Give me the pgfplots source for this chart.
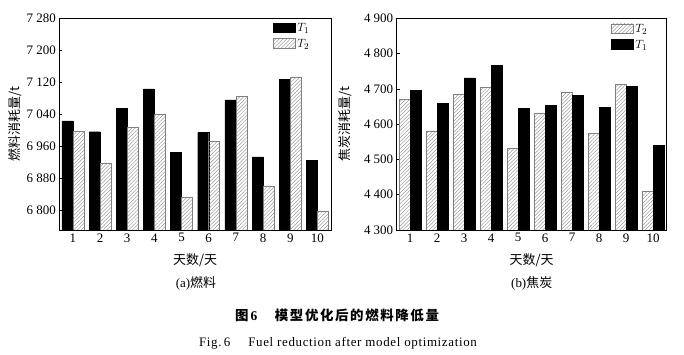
\documentclass[border=0pt]{standalone}
\usepackage{fontspec}
\setmainfont{Liberation Serif}
\newfontfamily\cjk{Noto Sans CJK SC}
\usepackage{pgfplots}
\pgfplotsset{compat=1.18}
\usetikzlibrary{patterns.meta}
\pgfplotstableread{
day T1 T2
1 7023 6998
2 6996 6917
3 7055 7008
4 7103 7040
5 6944 6831
6 6994 6971
7 7076 7084
8 6933 6860
9 7127 7133
10 6924 6796
}\fueltab
\pgfplotstableread{
day T2 T1
1 4670 4696
2 4581 4659
3 4685 4731
4 4704 4767
5 4532 4645
6 4632 4654
7 4690 4682
8 4574 4647
9 4713 4707
10 4410 4539
}\coketab
\pgfplotsset{
  common/.style={
    scale only axis,
    height=211.7bp,
    ybar=0pt,
    bar width=11bp,
    xmin=0.5, xmax=10.5,
    xtick={1,...,10},
    x tick style={draw=none},
    ytick pos=left,
    y tick style={black, line width=0.5pt},
    major tick length=3pt,
    tick align=inside,
    axis line style={line width=0.8pt},
    tick label style={font=\fontsize{13}{15}\selectfont},
    yticklabel style={/pgf/number format/1000 sep={\ }},
    /pgf/number format/assume math mode=true,
    legend style={draw=none, fill=none, inner sep=0pt, font=\fontsize{13}{15}\selectfont, row sep=2pt},
    legend image code/.code={\draw[#1] (0cm,-0.13cm) rectangle (0.76cm,0.2cm);},
    legend cell align=left,
    xlabel style={font=\fontsize{13}{15}\selectfont, at={(axis description cs:0.5,-0.142)}, anchor=center},
  },
  hatch/.style={draw=gray, line width=0.5pt, pattern={Lines[angle=45,distance=2.6pt,line width=0.35pt]}, pattern color=gray},
  solid/.style={draw=black, fill=black},
}
\begin{document}
\begin{tikzpicture}
\useasboundingbox (0,0) rectangle (684bp,355bp);
\begin{axis}[common,
  at={(59.3bp,125bp)}, anchor=south west,
  width=271.7bp,
  ymin=6750, ymax=7280,
  ytick={6800,6880,6960,7040,7120,7200,7280},
  xlabel={\cjk 天数/天},
  ylabel={\cjk 燃料消耗量/t},
  ylabel style={font=\fontsize{13}{15}\selectfont, at={(axis description cs:-0.163,0.5)}, anchor=center},
  legend style={at={(axis description cs:0.787,0.985)}, anchor=north west},
]
\addplot[solid] table[x=day,y=T1] {\fueltab};
\addplot[hatch] table[x=day,y=T2] {\fueltab};
\legend{$T_1$,$T_2$}
\end{axis}
\begin{axis}[common,
  at={(396.7bp,125bp)}, anchor=south west,
  width=270bp,
  ymin=4300, ymax=4900,
  ytick={4300,4400,...,4900},
  xlabel={\cjk 天数/天},
  ylabel={\cjk 焦炭消耗量/t},
  ylabel style={font=\fontsize{13}{15}\selectfont, at={(axis description cs:-0.191,0.5)}, anchor=center},
  legend style={at={(axis description cs:0.794,0.98)}, anchor=north west},
]
\addplot[hatch] table[x=day,y=T2] {\coketab};
\addplot[solid] table[x=day,y=T1] {\coketab};
\legend{$T_2$,$T_1$}
\end{axis}
\node[font=\fontsize{13}{15}\selectfont] at (196bp,71.7bp) {(a)\cjk 燃料};
\node[font=\fontsize{13}{15}\selectfont] at (531.7bp,71.7bp) {(b)\cjk 焦炭};
\node[font=\fontsize{13.5}{15}\selectfont] at (337bp,40bp) {{\cjk\bfseries 图}\,{\bfseries 6}\hspace{1.3em}{\cjk\bfseries\addfontfeature{LetterSpace=12}模型优化后的燃料降低量}};
\node[font=\fontsize{13}{15}\selectfont] at (338bp,12bp) {\addfontfeature{LetterSpace=5}Fig.\,6\hspace{1.4em}Fuel reduction after model optimization};
\end{tikzpicture}
\end{document}
